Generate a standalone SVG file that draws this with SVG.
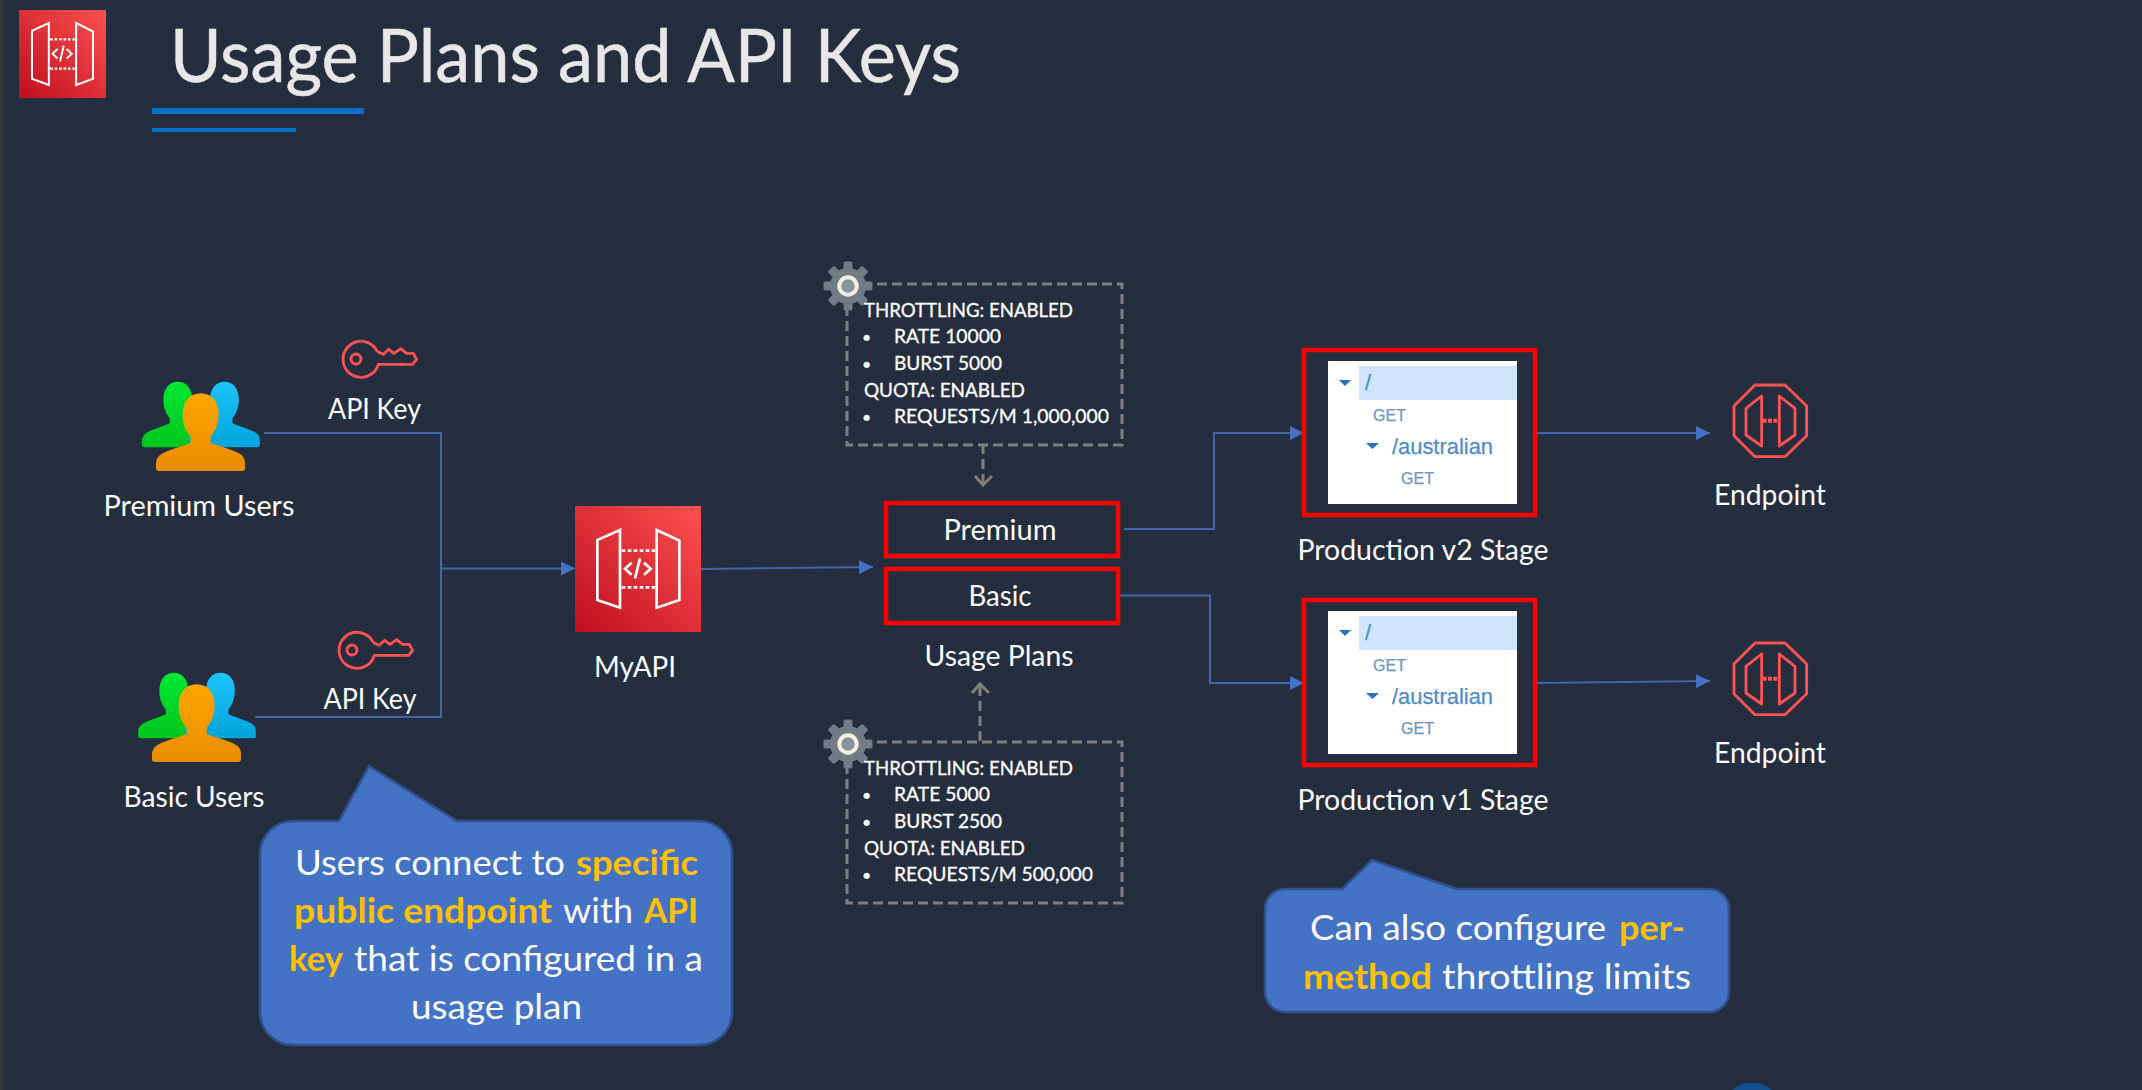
<svg xmlns="http://www.w3.org/2000/svg" xmlns:xlink="http://www.w3.org/1999/xlink" width="2142" height="1090" viewBox="0 0 2142 1090">
<style>
text{font-family:"Lato","Liberation Sans",sans-serif;fill:#fff}
.lbl{font-size:29px;text-anchor:middle}
.cfg{font-size:19px;stroke:#fff;stroke-width:.3}
.bul{font-size:16px}
.call{font-size:35px}
.hl{fill:#ffc000;font-weight:700}
.conn{fill:none;stroke:#3f65ab;stroke-width:2}
.dash{fill:none;stroke:#7f7f7f;stroke-width:3;stroke-dasharray:10 5}
.chev{fill:none;stroke:#7f7f7f;stroke-width:3}
.red{fill:none;stroke:#f00;stroke-width:4.5}
.bub{fill:#4472c4;stroke:#2f528f;stroke-width:2.5}
.neon{fill:none;stroke:#ff5252;stroke-linejoin:round}
.api{fill:none;stroke:#fff;stroke-linejoin:miter}
.tree{font-family:"Liberation Sans",sans-serif;}
.get{font-size:16.5px;fill:#6f96c6;stroke:#6f96c6;stroke-width:.25}
.res{font-size:22px;fill:#4f8bcc;stroke:#4f8bcc;stroke-width:.25}
.gear{fill:#717c87}
</style>
<defs>
<marker id="arr" markerUnits="userSpaceOnUse" markerWidth="14" markerHeight="14" refX="14" refY="7" orient="auto"><path d="M0 0L14 7L0 14Z" fill="#4472c4"/></marker>
<linearGradient id="tile" x1="0" y1="1" x2="1" y2="0"><stop offset="0" stop-color="#bd0f1f"/><stop offset="1" stop-color="#ff5050"/></linearGradient>
<linearGradient id="gO" x1="0" y1="0" x2="0" y2="1"><stop offset="0" stop-color="#ffa600"/><stop offset="1" stop-color="#e88d00"/></linearGradient>
<linearGradient id="gG" x1="0" y1="0" x2="0" y2="1"><stop offset="0" stop-color="#00e832"/><stop offset="1" stop-color="#00c41c"/></linearGradient>
<linearGradient id="gB" x1="0" y1="0" x2="0" y2="1"><stop offset="0" stop-color="#1cc4fa"/><stop offset="1" stop-color="#00a4dc"/></linearGradient>
<path id="person" d="M242 220C275 220 297 245 296 285C295 315 285 335 272 350L272 368C300 380 345 390 365 405C372 412 375 420 375 430L375 445Q375 453 365 453L118 453Q108 453 108 445L108 430C108 420 112 412 120 405C140 390 185 380 212 368L212 350C198 335 188 315 188 285C187 245 210 220 242 220Z"/>
<g id="users" transform="translate(120 320) scale(.3333)">
<use xlink:href="#person" href="#person" fill="url(#gG)" transform="translate(173 185) scale(.8 .845) translate(-241.500 -220)"/>
<use xlink:href="#person" href="#person" fill="url(#gB)" transform="translate(313 185) scale(.8 .845) translate(-241.500 -220)"/>
<use xlink:href="#person" href="#person" fill="url(#gO)"/>
</g>
<g id="key" transform="translate(120 320) scale(.3333)" class="neon" stroke-width="8.500">
<path d="M772 95A54 54 0 1 0 775 133L878 133L890 118L880 100L860 100L842 86L822 100L806 88L790 103L772 95"/>
<circle cx="708" cy="117" r="15"/>
</g>
<g id="gearIcon">
<circle r="18" class="gear"/>
<rect x="-4.500" y="-24.500" width="9" height="49" rx="2" class="gear"/>
<rect x="-4.500" y="-24.500" width="9" height="49" rx="2" class="gear" transform="rotate(45)"/>
<rect x="-4.500" y="-24.500" width="9" height="49" rx="2" class="gear" transform="rotate(90)"/>
<rect x="-4.500" y="-24.500" width="9" height="49" rx="2" class="gear" transform="rotate(135)"/>
<circle r="8.700" fill="#8494a0" stroke="#f5f0e0" stroke-width="4"/>
</g>
<g id="apiGlyph" class="api" stroke-width="8">
<path d="M180 120L112 150L112 330L180 353Z"/>
<path d="M290 120L358 152L358 330L290 353Z"/>
<path d="M185 182H285M185 292H285" stroke-dasharray="11 7"/>
<path d="M215 218L195 236L215 254M252 218L272 236L252 254M240 205L225 265"/>
</g>
<g id="stage">
<rect x="1304" y="350" width="231" height="165" class="red"/>
<rect x="1328" y="361" width="189" height="143" fill="#fff"/>
<rect x="1359" y="366" width="158" height="34" fill="#cfe5fb"/>
<path d="M1339 380H1351L1345 386ZM1366 443H1379L1372.500 449Z" fill="#2a70c4"/>
<text class="tree res" x="1365" y="390">/</text>
<text class="tree get" x="1373" y="421" textLength="33" lengthAdjust="spacingAndGlyphs">GET</text>
<text class="tree res" x="1392" y="454" textLength="101" lengthAdjust="spacingAndGlyphs">/australian</text>
<text class="tree get" x="1401" y="484" textLength="33" lengthAdjust="spacingAndGlyphs">GET</text>
</g>
<g id="endpointIcon" transform="translate(1690 370) scale(.3333)" class="neon" stroke-width="8.500">
<path d="M195 45H285L350 108V197L285 260H195L132 197V108Z"/>
<path d="M215 78L168 115V195L215 228Z"/>
<path d="M268 78L315 115V195L268 228Z"/>
<path d="M218 152H262" stroke-width="12" stroke-dasharray="12 4"/>
</g>
</defs>

<rect id="background" width="2142" height="1090" fill="#242e3f"/>
<rect x="0" y="0" width="3" height="1090" fill="#3a3a3a"/>
<ellipse cx="1752" cy="1093" rx="20" ry="10" fill="#14508f"/>

<g id="title">
<rect x="19" y="10" width="87" height="88" fill="url(#tile)"/>
<use xlink:href="#apiGlyph" href="#apiGlyph" transform="translate(4.200 -9) scale(.248 .266)"/>
<text x="170" y="82" font-size="73" style="fill:#e7e7e7;stroke:#e7e7e7;stroke-width:.5" textLength="791" lengthAdjust="spacingAndGlyphs">Usage Plans and API Keys</text>
<rect x="152" y="108" width="212" height="6" fill="#0070c8"/>
<rect x="152" y="128" width="144" height="4" fill="#0070c8"/>
</g>

<g id="connectors">
<path class="conn" d="M264 433H441V717H255"/>
<path class="conn" d="M441 568.500H575" marker-end="url(#arr)"/>
<path class="conn" d="M701 569L873 567" marker-end="url(#arr)"/>
<path class="conn" d="M1124 529H1214V433H1304" marker-end="url(#arr)"/>
<path class="conn" d="M1119 595.500H1210V683H1304" marker-end="url(#arr)"/>
<path class="conn" d="M1537 433H1710" marker-end="url(#arr)"/>
<path class="conn" d="M1537 683L1710 681" marker-end="url(#arr)"/>
<path class="dash" d="M983 444V484" stroke-dasharray="9 6"/>
<path class="chev" d="M975 476L983 485L992 476"/>
<path class="dash" d="M980 741V686" stroke-dasharray="9 6"/>
<path class="chev" d="M972 693L980 684L989 693"/>
</g>

<g id="premium-users">
<use xlink:href="#users" href="#users"/>
<text class="lbl" x="199" y="516" textLength="191" lengthAdjust="spacingAndGlyphs">Premium Users</text>
</g>
<g id="basic-users">
<use xlink:href="#users" href="#users" transform="translate(-4 291)"/>
<text class="lbl" x="194" y="807" textLength="141" lengthAdjust="spacingAndGlyphs">Basic Users</text>
</g>
<g id="api-key-premium">
<use xlink:href="#key" href="#key"/>
<text class="lbl" x="374.500" y="419" textLength="93" lengthAdjust="spacingAndGlyphs">API Key</text>
</g>
<g id="api-key-basic">
<use xlink:href="#key" href="#key" transform="translate(-4 291)"/>
<text class="lbl" x="370" y="709" textLength="93" lengthAdjust="spacingAndGlyphs">API Key</text>
</g>
<g id="myapi">
<rect x="575" y="506" width="126" height="126" fill="url(#tile)"/>
<use xlink:href="#apiGlyph" href="#apiGlyph" transform="translate(560 490) scale(.3333)"/>
<text class="lbl" x="635" y="677" textLength="82" lengthAdjust="spacingAndGlyphs">MyAPI</text>
</g>

<g id="config-premium">
<rect x="847" y="284" width="275" height="161" class="dash"/>
<use xlink:href="#gearIcon" href="#gearIcon" x="848" y="286"/>
<text class="cfg" x="864" y="317" textLength="209" lengthAdjust="spacingAndGlyphs">THROTTLING: ENABLED</text>
<text class="cfg bul" x="862" y="343">•</text>
<text class="cfg" x="894" y="343" textLength="107" lengthAdjust="spacingAndGlyphs">RATE 10000</text>
<text class="cfg bul" x="862" y="370">•</text>
<text class="cfg" x="894" y="370" textLength="108" lengthAdjust="spacingAndGlyphs">BURST 5000</text>
<text class="cfg" x="864" y="396.500" textLength="161" lengthAdjust="spacingAndGlyphs">QUOTA: ENABLED</text>
<text class="cfg bul" x="862" y="423">•</text>
<text class="cfg" x="894" y="423" textLength="215" lengthAdjust="spacingAndGlyphs">REQUESTS/M 1,000,000</text>
</g>
<g id="config-basic">
<rect x="847" y="742" width="275" height="161" class="dash"/>
<use xlink:href="#gearIcon" href="#gearIcon" x="848" y="744"/>
<text class="cfg" x="864" y="775" textLength="209" lengthAdjust="spacingAndGlyphs">THROTTLING: ENABLED</text>
<text class="cfg bul" x="862" y="801">•</text>
<text class="cfg" x="894" y="801" textLength="96" lengthAdjust="spacingAndGlyphs">RATE 5000</text>
<text class="cfg bul" x="862" y="828">•</text>
<text class="cfg" x="894" y="828" textLength="108" lengthAdjust="spacingAndGlyphs">BURST 2500</text>
<text class="cfg" x="864" y="854.500" textLength="161" lengthAdjust="spacingAndGlyphs">QUOTA: ENABLED</text>
<text class="cfg bul" x="862" y="881">•</text>
<text class="cfg" x="894" y="881" textLength="199" lengthAdjust="spacingAndGlyphs">REQUESTS/M 500,000</text>
</g>

<g id="plan-premium">
<rect x="886" y="503" width="232" height="53" class="red"/>
<text class="lbl" x="1000" y="540" textLength="113" lengthAdjust="spacingAndGlyphs">Premium</text>
</g>
<g id="plan-basic">
<rect x="886" y="569" width="232" height="54" class="red"/>
<text class="lbl" x="1000" y="606" textLength="63" lengthAdjust="spacingAndGlyphs">Basic</text>
</g>
<text id="usage-plans" class="lbl" x="999" y="666" textLength="149" lengthAdjust="spacingAndGlyphs">Usage Plans</text>

<g id="stage-v2">
<use xlink:href="#stage" href="#stage"/>
<text class="lbl" x="1423" y="560" textLength="251" lengthAdjust="spacingAndGlyphs">Production v2 Stage</text>
</g>
<g id="stage-v1">
<use xlink:href="#stage" href="#stage" transform="translate(0 250)"/>
<text class="lbl" x="1423" y="810" textLength="251" lengthAdjust="spacingAndGlyphs">Production v1 Stage</text>
</g>

<g id="endpoint-1">
<use xlink:href="#endpointIcon" href="#endpointIcon"/>
<text class="lbl" x="1770" y="505" textLength="112" lengthAdjust="spacingAndGlyphs">Endpoint</text>
</g>
<g id="endpoint-2">
<use xlink:href="#endpointIcon" href="#endpointIcon" transform="translate(0 258)"/>
<text class="lbl" x="1770" y="763" textLength="112" lengthAdjust="spacingAndGlyphs">Endpoint</text>
</g>

<g id="callout-users">
<path class="bub" d="M293 821H339L369 766L457 821H699A33 33 0 0 1 732 854V1012A33 33 0 0 1 699 1045H293A33 33 0 0 1 260 1012V854A33 33 0 0 1 293 821Z"/>
<text class="call" y="875"><tspan x="295" textLength="270" lengthAdjust="spacingAndGlyphs">Users connect to</tspan><tspan class="hl" x="576" textLength="122" lengthAdjust="spacingAndGlyphs">specific</tspan></text>
<text class="call" y="923"><tspan class="hl" x="294" textLength="258" lengthAdjust="spacingAndGlyphs">public endpoint</tspan><tspan x="563" textLength="70" lengthAdjust="spacingAndGlyphs">with</tspan><tspan class="hl" x="644" textLength="54" lengthAdjust="spacingAndGlyphs">API</tspan></text>
<text class="call" y="971"><tspan class="hl" x="289" textLength="54" lengthAdjust="spacingAndGlyphs">key</tspan><tspan x="354" textLength="349" lengthAdjust="spacingAndGlyphs">that is configured in a</tspan></text>
<text class="call" y="1019"><tspan x="411" textLength="171" lengthAdjust="spacingAndGlyphs">usage plan</tspan></text>
</g>
<g id="callout-methods">
<path class="bub" d="M1285 889H1342L1372 860L1457 889H1709A20 20 0 0 1 1729 909V992A20 20 0 0 1 1709 1012H1285A20 20 0 0 1 1265 992V909A20 20 0 0 1 1285 889Z"/>
<text class="call" y="940"><tspan x="1310" textLength="296" lengthAdjust="spacingAndGlyphs">Can also configure</tspan><tspan class="hl" x="1619" textLength="66" lengthAdjust="spacingAndGlyphs">per-</tspan></text>
<text class="call" y="989"><tspan class="hl" x="1303" textLength="129" lengthAdjust="spacingAndGlyphs">method</tspan><tspan x="1442" textLength="249" lengthAdjust="spacingAndGlyphs">throttling limits</tspan></text>
</g>
</svg>
